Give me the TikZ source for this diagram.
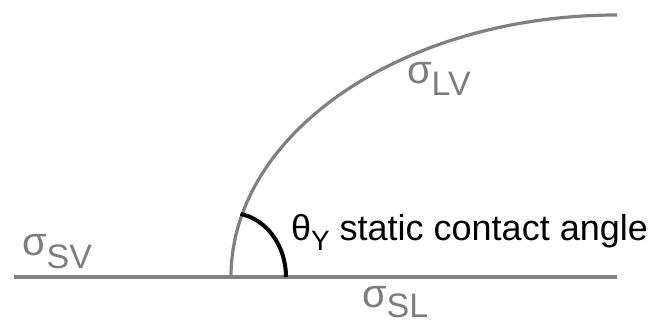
\documentclass[tikz,border=0pt]{standalone}
\usepackage{fontspec}
\setmainfont{Liberation Sans}
\definecolor{linegray}{RGB}{128,128,128}
\definecolor{textgray}{RGB}{125,125,125}
\tikzset{
  gline/.style={draw=linegray, line width=3.5pt},
  anglearc/.style={draw=black, line width=4pt},
  lbl/.style={anchor=base west, inner sep=0pt, outer sep=0pt},
}
\newcommand{\sigmalbl}[2]{{\fontsize{40}{44}\selectfont σ}\raisebox{-#2pt}{\fontsize{34}{38}\selectfont #1}}
\begin{document}
\begin{tikzpicture}[x=1pt,y=1pt]
\useasboundingbox (0,0) rectangle (658,325);
\coordinate (L) at (14,48);
\coordinate (R) at (617,48);
\coordinate (C) at (231,48);
\coordinate (A0) at (286,48);
% solid surface
\draw[gline] (L) -- (R);
% liquid-vapour interface
\draw[gline, line width=3.2pt] (C) arc[start angle=180, end angle=90, x radius=386, y radius=262];
% contact angle arc
\draw[anglearc] (A0) arc[start angle=0, end angle=80, x radius=55, y radius=64];
% labels
\node[lbl, text=textgray] (sv) at (22,70) {\sigmalbl{SV}{13}};
\node[lbl, text=textgray] (lv) at (407,242) {\sigmalbl{LV}{12}};
\node[lbl, text=textgray] (sl) at (362,18) {\sigmalbl{SL}{10}};
\node[lbl, text=black] (th) at (291,85) {\fontsize{36}{40}\selectfont θ\raisebox{-10pt}{\fontsize{28}{32}\selectfont Y} static contact angle};
\end{tikzpicture}
\end{document}
